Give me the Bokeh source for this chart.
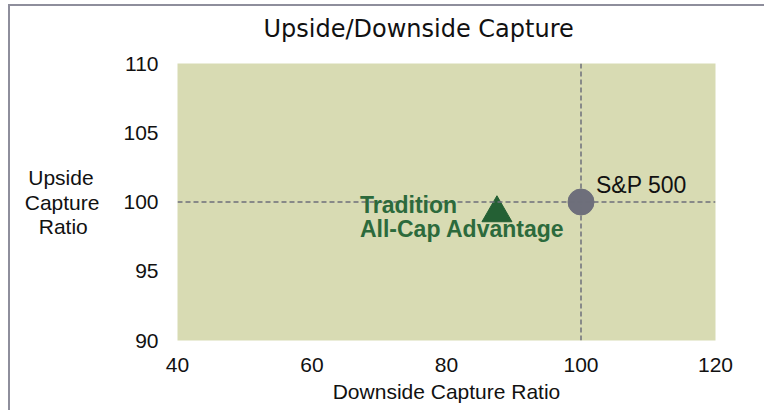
from bokeh.plotting import figure
from bokeh.models import Range1d, FixedTicker, Span, Label, Title
from bokeh.embed import file_html
from bokeh.resources import INLINE

# ---- data ----
series_names = ["Tradition All-Cap Advantage", "S&P 500"]
downside_capture = [87.5, 100.0]
upside_capture = [99.2, 100.0]
x_ticks = [40, 60, 80, 100, 120]
y_ticks = [90, 95, 100, 105, 110]
ref_x = 100
ref_y = 100
chart_title = "Upside/Downside Capture"

BG = "#D8DBB3"
GREEN = "#246034"
GREEN_TXT = "#2C6A3C"
GREY = "#6E6F7B"
FONT = "Liberation Sans"
NB = "\u00a0"

p = figure(
    output_backend="svg", toolbar_location=None, title=None,
    frame_width=538, frame_height=277,
    min_border_left=167, min_border_right=49, min_border_top=57, min_border_bottom=70,
    x_range=Range1d(x_ticks[0], x_ticks[-1]), y_range=Range1d(y_ticks[0], y_ticks[-1]),
)
p.styles = {"border-left": "2px solid #8E8E9C", "border-top": "2px solid #8E8E9C",
            "margin-left": "8px", "margin-top": "4px"}
p.background_fill_color = BG
p.border_fill_color = "white"
p.outline_line_color = None
p.grid.visible = False

xax = p.below[0]
yax = p.left[0]

# spacer title nearest the frame, then the real title above it
p.add_layout(Title(text=" ", text_font_size="1px", standoff=17, text_color="white"), "above")
p.add_layout(Title(text=chart_title, text_font="DejaVu Sans", text_font_size="24px",
                   text_font_style="normal", align="left", offset=86, standoff=2,
                   text_color="#111111"), "above")

for ax in (xax, yax):
    ax.axis_line_color = None
    ax.major_tick_line_color = None
    ax.minor_tick_line_color = None
    ax.major_tick_out = 0
    ax.major_tick_in = 0
    ax.major_label_text_font = FONT
    ax.major_label_text_font_size = "21px"
    ax.major_label_text_color = "#111111"
    ax.axis_label_text_font = FONT
    ax.axis_label_text_font_size = "21px"
    ax.axis_label_text_font_style = "normal"
    ax.axis_label_text_color = "#111111"

xax.ticker = FixedTicker(ticks=x_ticks)
yax.ticker = FixedTicker(ticks=y_ticks)
xax.major_label_standoff = 17
yax.major_label_standoff = 19
xax.axis_label = "Downside Capture Ratio"
xax.axis_label_standoff = 5

# y axis title, horizontal, three lines (padded so the lines sit centred)
y_title = "Upside" + NB + "\nCapture\nRatio" + NB + NB
use_axis_label = True
try:
    yax.axis_label_orientation = "horizontal"
    yax.axis_label = y_title
    yax.axis_label_standoff = 21
    yax.axis_label_text_line_height = 1.05
except Exception:
    use_axis_label = False

# reference lines
p.add_layout(Span(location=ref_x, dimension="height", line_color=GREY, line_width=1.5, line_dash="5 3"))
p.add_layout(Span(location=ref_y, dimension="width", line_color=GREY, line_width=1.5, line_dash="5 3"))

# points
p.scatter(x=[downside_capture[0]], y=[upside_capture[0]], marker="triangle", size=30,
          fill_color=GREEN, line_color=GREEN)
p.scatter(x=[downside_capture[1]], y=[upside_capture[1]], marker="circle", size=26,
          fill_color=GREY, line_color=GREY)

# labels
p.add_layout(Label(x=downside_capture[0], y=upside_capture[0], x_offset=-137, y_offset=8,
                   text="Tradition", text_font=FONT, text_font_size="23px",
                   text_font_style="bold", text_color=GREEN_TXT, text_baseline="middle"))
p.add_layout(Label(x=downside_capture[0], y=upside_capture[0], x_offset=-137, y_offset=-16,
                   text="All-Cap Advantage", text_font=FONT, text_font_size="23px",
                   text_font_style="bold", text_color=GREEN_TXT, text_baseline="middle"))
p.add_layout(Label(x=downside_capture[1], y=upside_capture[1], x_offset=15, y_offset=17,
                   text="S&P 500", text_font=FONT, text_font_size="23px",
                   text_color="#111111", text_baseline="middle"))

if not use_axis_label:
    p.add_layout(Label(x=23, y=ref_y, y_offset=-8, text="Upside\nCapture\nRatio",
                       text_font=FONT, text_font_size="21px", text_color="#111111",
                       text_align="center", text_baseline="middle", text_line_height=1.1))

open("out.html", "w").write(file_html(p, INLINE))
